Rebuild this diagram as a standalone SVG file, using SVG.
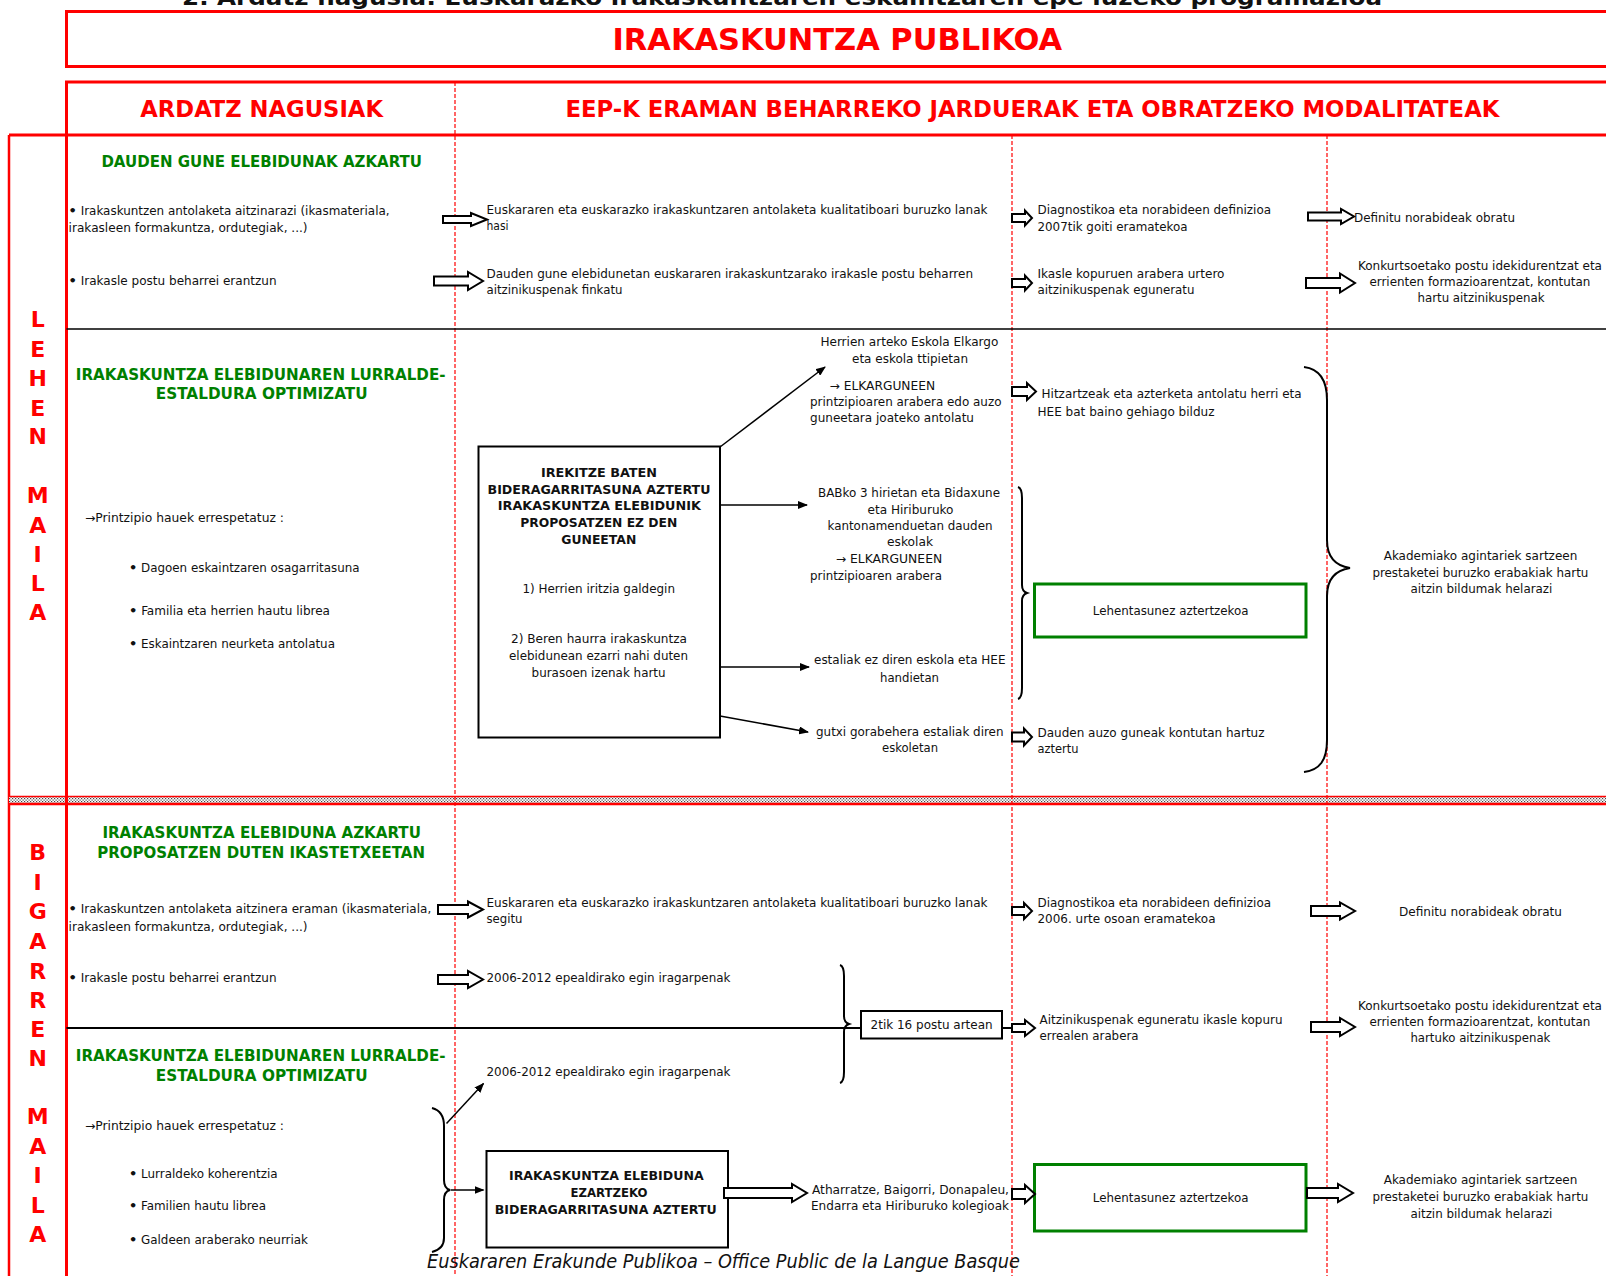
<svg xmlns="http://www.w3.org/2000/svg" width="1606" height="1276" viewBox="0 0 1606 1276">
<style>
.t{font-family:"DejaVu Sans Condensed","DejaVu Sans",sans-serif;font-size:12px;fill:#111}
.b{font-family:"DejaVu Sans","Verdana",sans-serif;font-size:11.5px;font-weight:bold;fill:#111}
.g{font-family:"DejaVu Sans",sans-serif;font-size:15px;font-weight:bold;fill:#008000}
.r{font-family:"DejaVu Sans Condensed","DejaVu Sans",sans-serif;font-weight:bold;fill:#ff0000}
.lt{font-family:"DejaVu Sans",sans-serif;font-size:22px;font-weight:bold;fill:#ff0000;text-anchor:middle}
.red{stroke:#ff0000;fill:none}
.dash{stroke:#ff0000;stroke-width:1.2;stroke-dasharray:4 2;fill:none}
.blk{fill:#fff;stroke:#000;stroke-width:2}
.ln{stroke:#000;stroke-width:1.5;fill:none}
.br{stroke:#000;stroke-width:2;fill:none}
.grn{fill:#fff;stroke:#008000;stroke-width:3}
.box{fill:#fff;stroke:#000;stroke-width:2}
.bu{font-weight:bold;font-size:13px}
</style>
<defs>
<marker id="ah" markerWidth="10" markerHeight="8" refX="9" refY="4" orient="auto" markerUnits="userSpaceOnUse"><path d="M0,0 L10,4 L0,8 Z" fill="#000"/></marker>
<pattern id="dots" width="3" height="3" patternUnits="userSpaceOnUse"><rect width="3" height="3" fill="#fff"/><rect width="1.2" height="1.2" fill="#444"/><rect x="1.5" y="1.5" width="1.2" height="1.2" fill="#444"/></pattern>
</defs>
<rect width="1606" height="1276" fill="#fff"/>

<g id="top-title">
<text x="182" y="5" font-family="DejaVu Sans,sans-serif" font-weight="bold" font-size="22" fill="#111" textLength="1200" lengthAdjust="spacingAndGlyphs">2. Ardatz nagusia: Euskarazko irakaskuntzaren eskaintzaren epe luzeko programazioa</text>
</g>

<g id="frame">
<rect class="red" x="66.5" y="11.5" width="1560" height="55" stroke-width="3"/>
<text class="r" x="612.5" y="50" font-size="30" textLength="449.6" lengthAdjust="spacingAndGlyphs">IRAKASKUNTZA PUBLIKOA</text>
<path class="red" stroke-width="3" d="M1606,82 H66.5 V1276"/>
<path class="red" stroke-width="3" d="M9,135 H1606"/>
<path class="red" stroke-width="2.5" d="M9,135 V1276"/>
<rect x="9" y="797" width="1597" height="6" fill="url(#dots)"/>
<path class="red" stroke-width="1.5" d="M9,796.5 H1606"/>
<path class="red" stroke-width="2.5" d="M9,804 H1606"/>
<path class="red" stroke-width="3" d="M66.5,796 V806"/>
<path class="dash" d="M455,82 V1276 M1012,135 V1276 M1327,135 V1276"/>
<path stroke="#000" stroke-width="1.5" d="M66.5,329 H1606"/>
<text class="r" x="140.3" y="117" font-size="23" textLength="242.7" lengthAdjust="spacingAndGlyphs">ARDATZ NAGUSIAK</text>
<text class="r" x="565.4" y="117" font-size="23" textLength="934" lengthAdjust="spacingAndGlyphs">EEP-K ERAMAN BEHARREKO JARDUERAK ETA OBRATZEKO MODALITATEAK</text>
</g>

<g id="lehen-maila">
<text class="lt" x="37.7" y="327">L</text>
<text class="lt" x="37.7" y="356.5">E</text>
<text class="lt" x="37.7" y="386">H</text>
<text class="lt" x="37.7" y="415.5">E</text>
<text class="lt" x="37.7" y="444">N</text>
<text class="lt" x="37.7" y="503">M</text>
<text class="lt" x="37.7" y="532.5">A</text>
<text class="lt" x="37.7" y="561.5">I</text>
<text class="lt" x="37.7" y="591">L</text>
<text class="lt" x="37.7" y="620">A</text>
</g>

<g id="bigarren-maila">
<text class="lt" x="37.7" y="860">B</text>
<text class="lt" x="37.7" y="889.5">I</text>
<text class="lt" x="37.7" y="919">G</text>
<text class="lt" x="37.7" y="948.5">A</text>
<text class="lt" x="37.7" y="978.5">R</text>
<text class="lt" x="37.7" y="1008">R</text>
<text class="lt" x="37.7" y="1037">E</text>
<text class="lt" x="37.7" y="1066">N</text>
<text class="lt" x="37.7" y="1124">M</text>
<text class="lt" x="37.7" y="1153.5">A</text>
<text class="lt" x="37.7" y="1183">I</text>
<text class="lt" x="37.7" y="1212.5">L</text>
<text class="lt" x="37.7" y="1242">A</text>
</g>

<g id="s1-axis1">
<text class="g" x="101.4" y="167" textLength="320.6" lengthAdjust="spacingAndGlyphs">DAUDEN GUNE ELEBIDUNAK AZKARTU</text>
<text class="t" x="68.6" y="214.5" textLength="321" lengthAdjust="spacingAndGlyphs"><tspan class="bu">•</tspan> Irakaskuntzen antolaketa aitzinarazi (ikasmateriala,</text>
<text class="t" x="68.6" y="231.5" textLength="239" lengthAdjust="spacingAndGlyphs">irakasleen formakuntza, ordutegiak, ...)</text>
<text class="t" x="68.6" y="285" textLength="208" lengthAdjust="spacingAndGlyphs"><tspan class="bu">•</tspan> Irakasle postu beharrei erantzun</text>
</g>
<g id="s1-a-col2">
<text class="t" x="486.5" y="213.5" textLength="501" lengthAdjust="spacingAndGlyphs">Euskararen eta euskarazko irakaskuntzaren antolaketa kualitatiboari buruzko lanak</text>
<text class="t" x="486.5" y="230">hasi</text>
</g>
<g id="s1-a-col3">
<text class="t" x="1037.5" y="214" textLength="233.5" lengthAdjust="spacingAndGlyphs">Diagnostikoa eta norabideen definizioa</text>
<text class="t" x="1037.5" y="230.5" textLength="150" lengthAdjust="spacingAndGlyphs">2007tik goiti eramatekoa</text>
</g>
<g id="s1-a-col4">
<text class="t" x="1354" y="222" textLength="161" lengthAdjust="spacingAndGlyphs">Definitu norabideak obratu</text>
</g>
<g id="s1-b-col2">
<text class="t" x="486.5" y="277.5" textLength="486.5" lengthAdjust="spacingAndGlyphs">Dauden gune elebidunetan euskararen irakaskuntzarako irakasle postu beharren</text>
<text class="t" x="486.5" y="294" textLength="136" lengthAdjust="spacingAndGlyphs">aitzinikuspenak finkatu</text>
</g>
<g id="s1-b-col3">
<text class="t" x="1037.5" y="277.5" textLength="187" lengthAdjust="spacingAndGlyphs">Ikasle kopuruen arabera urtero</text>
<text class="t" x="1037.5" y="294" textLength="157" lengthAdjust="spacingAndGlyphs">aitzinikuspenak eguneratu</text>
</g>
<g id="s1-b-col4">
<text class="t" x="1358" y="269.5" textLength="244" lengthAdjust="spacingAndGlyphs">Konkurtsoetako postu idekidurentzat eta</text>
<text class="t" x="1369.4" y="285.7" textLength="221" lengthAdjust="spacingAndGlyphs">errienten formazioarentzat, kontutan</text>
<text class="t" x="1417.5" y="302" textLength="127" lengthAdjust="spacingAndGlyphs">hartu aitzinikuspenak</text>
</g>

<g id="s1-axis2">
<text class="g" x="75.8" y="380" textLength="369.7" lengthAdjust="spacingAndGlyphs">IRAKASKUNTZA ELEBIDUNAREN LURRALDE-</text>
<text class="g" x="155.7" y="399" textLength="212" lengthAdjust="spacingAndGlyphs">ESTALDURA OPTIMIZATU</text>
<text class="t" x="85" y="522" textLength="199" lengthAdjust="spacingAndGlyphs">→Printzipio hauek errespetatuz :</text>
<text class="t" x="129" y="572" textLength="230.5" lengthAdjust="spacingAndGlyphs"><tspan class="bu">•</tspan> Dagoen eskaintzaren osagarritasuna</text>
<text class="t" x="129" y="615" textLength="201" lengthAdjust="spacingAndGlyphs"><tspan class="bu">•</tspan> Familia eta herrien hautu librea</text>
<text class="t" x="129" y="648" textLength="206" lengthAdjust="spacingAndGlyphs"><tspan class="bu">•</tspan> Eskaintzaren neurketa antolatua</text>
</g>

<g id="s1-irekitze-box">
<rect class="box" x="478.5" y="446.5" width="241.5" height="291"/>
<text class="b" x="541" y="477" textLength="116" lengthAdjust="spacingAndGlyphs">IREKITZE BATEN</text>
<text class="b" x="487.5" y="493.5" textLength="223" lengthAdjust="spacingAndGlyphs">BIDERAGARRITASUNA AZTERTU</text>
<text class="b" x="497.8" y="510" textLength="203" lengthAdjust="spacingAndGlyphs">IRAKASKUNTZA ELEBIDUNIK</text>
<text class="b" x="520.3" y="527" textLength="157" lengthAdjust="spacingAndGlyphs">PROPOSATZEN EZ DEN</text>
<text class="b" x="561.3" y="543.5" textLength="75" lengthAdjust="spacingAndGlyphs">GUNEETAN</text>
<text class="t" x="522.4" y="593" textLength="152.6" lengthAdjust="spacingAndGlyphs">1) Herrien iritzia galdegin</text>
<text class="t" x="511" y="643" textLength="176" lengthAdjust="spacingAndGlyphs">2) Beren haurra irakaskuntza</text>
<text class="t" x="509" y="660" textLength="179" lengthAdjust="spacingAndGlyphs">elebidunean ezarri nahi duten</text>
<text class="t" x="531.6" y="677" textLength="134" lengthAdjust="spacingAndGlyphs">burasoen izenak hartu</text>
</g>

<g id="s1-elkargo">
<text class="t" x="820.4" y="345.5" textLength="178" lengthAdjust="spacingAndGlyphs">Herrien arteko Eskola Elkargo</text>
<text class="t" x="852" y="362.5" textLength="116" lengthAdjust="spacingAndGlyphs">eta eskola ttipietan</text>
<text class="t" x="829.6" y="389.5" textLength="105.5" lengthAdjust="spacingAndGlyphs">→ ELKARGUNEEN</text>
<text class="t" x="810" y="406" textLength="191.5" lengthAdjust="spacingAndGlyphs">printzipioaren arabera edo auzo</text>
<text class="t" x="810" y="422" textLength="164" lengthAdjust="spacingAndGlyphs">guneetara joateko antolatu</text>
</g>
<g id="s1-bab">
<text class="t" x="818" y="497" textLength="182" lengthAdjust="spacingAndGlyphs">BABko 3 hirietan eta Bidaxune</text>
<text class="t" x="867.5" y="513.5" textLength="86" lengthAdjust="spacingAndGlyphs">eta Hiriburuko</text>
<text class="t" x="827.5" y="529.5" textLength="165" lengthAdjust="spacingAndGlyphs">kantonamenduetan dauden</text>
<text class="t" x="887" y="546" textLength="46" lengthAdjust="spacingAndGlyphs">eskolak</text>
<text class="t" x="835.7" y="563" textLength="106.5" lengthAdjust="spacingAndGlyphs">→ ELKARGUNEEN</text>
<text class="t" x="810" y="579.5" textLength="132" lengthAdjust="spacingAndGlyphs">printzipioaren arabera</text>
</g>
<g id="s1-estaliak">
<text class="t" x="814" y="663.5" textLength="191.5" lengthAdjust="spacingAndGlyphs">estaliak ez diren eskola eta HEE</text>
<text class="t" x="880" y="681.5" textLength="59" lengthAdjust="spacingAndGlyphs">handietan</text>
</g>
<g id="s1-gutxi">
<text class="t" x="816" y="736" textLength="187.5" lengthAdjust="spacingAndGlyphs">gutxi gorabehera estaliak diren</text>
<text class="t" x="882" y="752" textLength="56" lengthAdjust="spacingAndGlyphs">eskoletan</text>
</g>
<g id="s1-hitzartze">
<text class="t" x="1041.6" y="397.5" textLength="260" lengthAdjust="spacingAndGlyphs">Hitzartzeak eta azterketa antolatu herri eta</text>
<text class="t" x="1037.5" y="415.5" textLength="177" lengthAdjust="spacingAndGlyphs">HEE bat baino gehiago bilduz</text>
</g>
<g id="s1-lehentasunez">
<rect class="grn" x="1034.5" y="584" width="271.5" height="53"/>
<text class="t" x="1092.8" y="615" textLength="155.7" lengthAdjust="spacingAndGlyphs">Lehentasunez aztertzekoa</text>
</g>
<g id="s1-auzo">
<text class="t" x="1037.5" y="737" textLength="227" lengthAdjust="spacingAndGlyphs">Dauden auzo guneak kontutan hartuz</text>
<text class="t" x="1037.5" y="752.5" textLength="41" lengthAdjust="spacingAndGlyphs">aztertu</text>
</g>
<g id="s1-akademia">
<text class="t" x="1383.7" y="560" textLength="193.6" lengthAdjust="spacingAndGlyphs">Akademiako agintariek sartzeen</text>
<text class="t" x="1372.4" y="576.7" textLength="216" lengthAdjust="spacingAndGlyphs">prestaketei buruzko erabakiak hartu</text>
<text class="t" x="1410.4" y="592.7" textLength="142" lengthAdjust="spacingAndGlyphs">aitzin bildumak helarazi</text>
</g>

<g id="s2-axis1">
<text class="g" x="102.4" y="838" textLength="318.5" lengthAdjust="spacingAndGlyphs">IRAKASKUNTZA ELEBIDUNA AZKARTU</text>
<text class="g" x="97.3" y="858" textLength="327.7" lengthAdjust="spacingAndGlyphs">PROPOSATZEN DUTEN IKASTETXEETAN</text>
<text class="t" x="68.6" y="913.3" textLength="362.6" lengthAdjust="spacingAndGlyphs"><tspan class="bu">•</tspan> Irakaskuntzen antolaketa aitzinera eraman (ikasmateriala,</text>
<text class="t" x="68.6" y="931.3" textLength="239" lengthAdjust="spacingAndGlyphs">irakasleen formakuntza, ordutegiak, ...)</text>
<text class="t" x="68.6" y="981.5" textLength="208" lengthAdjust="spacingAndGlyphs"><tspan class="bu">•</tspan> Irakasle postu beharrei erantzun</text>
</g>
<g id="s2-a-col2">
<text class="t" x="486.5" y="906.5" textLength="501" lengthAdjust="spacingAndGlyphs">Euskararen eta euskarazko irakaskuntzaren antolaketa kualitatiboari buruzko lanak</text>
<text class="t" x="486.5" y="922.5" textLength="36" lengthAdjust="spacingAndGlyphs">segitu</text>
</g>
<g id="s2-b-col2">
<text class="t" x="486.5" y="981.5" textLength="244" lengthAdjust="spacingAndGlyphs">2006-2012 epealdirako egin iragarpenak</text>
</g>
<g id="s2-a-col3">
<text class="t" x="1037.5" y="907" textLength="233.5" lengthAdjust="spacingAndGlyphs">Diagnostikoa eta norabideen definizioa</text>
<text class="t" x="1037.5" y="923" textLength="178" lengthAdjust="spacingAndGlyphs">2006. urte osoan eramatekoa</text>
</g>
<g id="s2-a-col4">
<text class="t" x="1399" y="915.5" textLength="163" lengthAdjust="spacingAndGlyphs">Definitu norabideak obratu</text>
</g>
<g id="s2-postu-box">
<rect class="box" x="861" y="1011" width="141" height="27.5"/>
<text class="t" x="870.6" y="1029.3" textLength="122" lengthAdjust="spacingAndGlyphs">2tik 16 postu artean</text>
</g>
<g id="s2-b-col3">
<text class="t" x="1039.5" y="1023.5" textLength="243" lengthAdjust="spacingAndGlyphs">Aitzinikuspenak eguneratu ikasle kopuru</text>
<text class="t" x="1039.5" y="1040" textLength="99" lengthAdjust="spacingAndGlyphs">errealen arabera</text>
</g>
<g id="s2-b-col4">
<text class="t" x="1358" y="1010" textLength="244" lengthAdjust="spacingAndGlyphs">Konkurtsoetako postu idekidurentzat eta</text>
<text class="t" x="1369.4" y="1026" textLength="221" lengthAdjust="spacingAndGlyphs">errienten formazioarentzat, kontutan</text>
<text class="t" x="1410.4" y="1041.7" textLength="140" lengthAdjust="spacingAndGlyphs">hartuko aitzinikuspenak</text>
</g>
<g id="s2-axis2">
<text class="g" x="75.8" y="1061" textLength="369.7" lengthAdjust="spacingAndGlyphs">IRAKASKUNTZA ELEBIDUNAREN LURRALDE-</text>
<text class="g" x="155.7" y="1081" textLength="212" lengthAdjust="spacingAndGlyphs">ESTALDURA OPTIMIZATU</text>
<text class="t" x="85" y="1130" textLength="199" lengthAdjust="spacingAndGlyphs">→Printzipio hauek errespetatuz :</text>
<text class="t" x="129" y="1178" textLength="148.6" lengthAdjust="spacingAndGlyphs"><tspan class="bu">•</tspan> Lurraldeko koherentzia</text>
<text class="t" x="129" y="1210" textLength="137" lengthAdjust="spacingAndGlyphs"><tspan class="bu">•</tspan> Familien hautu librea</text>
<text class="t" x="129" y="1244" textLength="179" lengthAdjust="spacingAndGlyphs"><tspan class="bu">•</tspan> Galdeen araberako neurriak</text>
</g>
<g id="s2-iragarpenak2">
<text class="t" x="486.5" y="1076" textLength="244" lengthAdjust="spacingAndGlyphs">2006-2012 epealdirako egin iragarpenak</text>
</g>
<g id="s2-ezartzeko-box">
<rect class="box" x="486.5" y="1151" width="241.5" height="96.5"/>
<text class="b" x="509" y="1180" textLength="194.6" lengthAdjust="spacingAndGlyphs">IRAKASKUNTZA ELEBIDUNA</text>
<text class="b" x="570.5" y="1197" textLength="77" lengthAdjust="spacingAndGlyphs">EZARTZEKO</text>
<text class="b" x="494.7" y="1214" textLength="222" lengthAdjust="spacingAndGlyphs">BIDERAGARRITASUNA AZTERTU</text>
</g>
<g id="s2-kolegioak">
<text class="t" x="812" y="1193.5" textLength="197" lengthAdjust="spacingAndGlyphs">Atharratze, Baigorri, Donapaleu,</text>
<text class="t" x="811" y="1210" textLength="198" lengthAdjust="spacingAndGlyphs">Endarra eta Hiriburuko kolegioak</text>
</g>
<g id="s2-lehentasunez">
<rect class="grn" x="1034.5" y="1164.5" width="271.5" height="66.5"/>
<text class="t" x="1092.8" y="1201.5" textLength="155.7" lengthAdjust="spacingAndGlyphs">Lehentasunez aztertzekoa</text>
</g>
<g id="s2-akademia">
<text class="t" x="1383.7" y="1184" textLength="193.6" lengthAdjust="spacingAndGlyphs">Akademiako agintariek sartzeen</text>
<text class="t" x="1372.4" y="1201" textLength="216" lengthAdjust="spacingAndGlyphs">prestaketei buruzko erabakiak hartu</text>
<text class="t" x="1410.4" y="1217.5" textLength="142" lengthAdjust="spacingAndGlyphs">aitzin bildumak helarazi</text>
</g>

<g id="connectors">
<path class="blk" d="M443,216 H471 V213 L487,219.5 L471,226 V223 H443 Z"/>
<path class="blk" d="M434,276.5 H468 V272 L483,281 L468,290 V285.5 H434 Z"/>
<path class="blk" d="M1012,214 H1025 V210.5 L1032,218 L1025,225.5 V222 H1012 Z"/>
<path class="blk" d="M1308,212.5 H1341 V209 L1354,216.5 L1341,224 V220.5 H1308 Z"/>
<path class="blk" d="M1012,279 H1025 V275.5 L1032,283 L1025,290.5 V287 H1012 Z"/>
<path class="blk" d="M1306,278 H1340 V273.5 L1355,283 L1340,292.5 V288 H1306 Z"/>
<path class="blk" d="M1012,387 H1027 V383 L1036,391.5 L1027,400 V396 H1012 Z"/>
<path class="blk" d="M1012,732.5 H1024 V728.5 L1032,737 L1024,745.5 V741.5 H1012 Z"/>
<path class="ln" marker-end="url(#ah)" d="M720,447 L825,367"/>
<path class="ln" marker-end="url(#ah)" d="M720,505 L807,505"/>
<path class="ln" marker-end="url(#ah)" d="M720,667 L809,667"/>
<path class="ln" marker-end="url(#ah)" d="M720,716 L808,732"/>
<path class="br" d="M1018,487 C1021,488 1022,492 1022,498 L1022,585 C1022,590 1024,592 1027,593 C1024,594 1022,596 1022,601 L1022,688 C1022,694 1021,698 1018,699"/>
<path class="br" d="M1304,367 C1320,369 1327,380 1327,400 L1327,540 C1327,558 1337,566 1350,568 C1337,570 1327,578 1327,596 L1327,740 C1327,760 1320,770 1304,772"/>

<path class="blk" d="M438,905 H468 V901.5 L483,909.5 L468,917.5 V914 H438 Z"/>
<path class="blk" d="M438,975 H468 V971 L483,979.5 L468,988 V984 H438 Z"/>
<path class="blk" d="M1012,907 H1024 V903 L1032,911 L1024,919 V915 H1012 Z"/>
<path class="blk" d="M1311,906 H1340 V902.5 L1355,911 L1340,919.5 V916 H1311 Z"/>
<path class="blk" d="M1012,1024 H1025 V1020 L1035,1028 L1025,1036 V1032 H1012 Z"/>
<path class="blk" d="M1311,1022 H1340 V1018 L1355,1027 L1340,1036 V1032 H1311 Z"/>
<path class="blk" d="M724,1188 H792 V1184 L807,1193 L792,1202 V1198 H724 Z"/>
<path class="blk" d="M1012,1189 H1025 V1185 L1035,1194 L1025,1203 V1199 H1012 Z"/>
<path class="blk" d="M1307,1188 H1338 V1184 L1353,1193 L1338,1202 V1198 H1307 Z"/>
<path stroke="#000" stroke-width="2" fill="none" d="M66.5,1028 H861 M1002,1028 H1012"/>
<path class="br" d="M840,965 C843,966 844,970 844,976 L844,1016 C844,1021 846,1023 849,1024 C846,1025 844,1027 844,1032 L844,1072 C844,1078 843,1082 840,1083"/>
<path class="br" d="M432,1108 C440,1110 444,1116 444,1126 L444,1180 C444,1186 446,1189 450,1190 C446,1191 444,1194 444,1200 L444,1238 C444,1246 440,1250 432,1252"/>
<path class="ln" marker-end="url(#ah)" d="M446.5,1123.5 L483.5,1083.6"/>
<path class="ln" marker-end="url(#ah)" d="M450.6,1190 L483.5,1190"/>
</g>

<g id="footer">
<text x="427" y="1268" font-family="DejaVu Sans Condensed,DejaVu Sans,sans-serif" font-style="italic" font-size="19" fill="#111" textLength="593" lengthAdjust="spacingAndGlyphs">Euskararen Erakunde Publikoa – Office Public de la Langue Basque</text>
</g>
</svg>
